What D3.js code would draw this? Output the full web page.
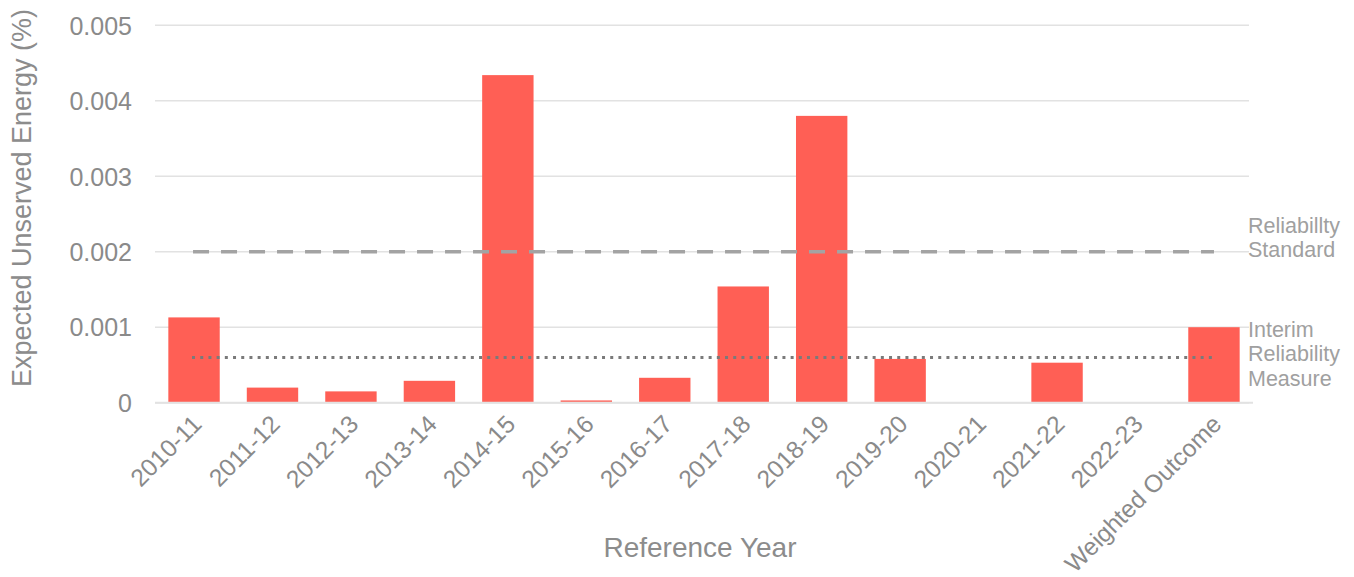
<!DOCTYPE html>
<html>
<head>
<meta charset="utf-8">
<script src="https://cdn.jsdelivr.net/npm/d3@7"></script>
<style>
  html, body { margin: 0; padding: 0; background: #fff; }
  svg { display: block; font-family: "Liberation Sans", Arial, sans-serif; }
</style>
</head>
<body>
<svg id="chart" width="1354" height="577"></svg>
<script>
// Expected unserved energy by reference year
const categories = ["2010-11", "2011-12", "2012-13", "2013-14", "2014-15", "2015-16", "2016-17",
  "2017-18", "2018-19", "2019-20", "2020-21", "2021-22", "2022-23", "Weighted Outcome"];
const useValues = [0.00113, 0.0002, 0.00015, 0.00029, 0.00434, 0.00003, 0.00033,
  0.00154, 0.0038, 0.00058, 0, 0.00053, 0, 0.001];
const yTicks = [0, 0.001, 0.002, 0.003, 0.004, 0.005];
const yTickLabels = ["0", "0.001", "0.002", "0.003", "0.004", "0.005"];
const reliabilityStandard = 0.002;
const interimMeasure = 0.0006;
const standardLabel = ["Reliabillty", "Standard"];
const interimLabel = ["Interim", "Reliability", "Measure"];

const svg = d3.select("#chart");
const plotLeft = 155, plotRight = 1253, plotTop = 25.3, plotBottom = 402.7;

const x = d3.scaleBand().domain(categories).range([plotLeft, plotRight]).paddingInner(0.345).paddingOuter(0.17);
const y = d3.scaleLinear().domain([0, 0.005]).range([plotBottom, plotTop]);

// Horizontal gridlines
svg.append("g").selectAll("line").data(yTicks).join("line")
  .attr("x1", plotLeft).attr("x2", 1249)
  .attr("y1", d => y(d)).attr("y2", d => y(d))
  .attr("stroke", "#e2e2e2").attr("stroke-width", 1.6);

// Y axis labels
const yAxis = d3.axisLeft(y).tickValues(yTicks).tickSize(0).tickPadding(0)
  .tickFormat((d, i) => yTickLabels[i]);
svg.append("g").attr("transform", "translate(132,0)").call(yAxis)
  .call(g => g.select(".domain").remove())
  .selectAll("text")
  .attr("font-family", "Liberation Sans, Arial, sans-serif")
  .attr("font-size", 25).attr("fill", "#8a8a8a").attr("dy", "0.35em");

// Bars
svg.append("g").selectAll("rect").data(useValues).join("rect")
  .attr("x", (d, i) => x(categories[i]))
  .attr("width", x.bandwidth())
  .attr("y", d => y(d))
  .attr("height", d => y(0) - y(d))
  .attr("fill", "#ff5f55");

// Baseline
svg.append("line").attr("x1", plotLeft).attr("x2", plotRight)
  .attr("y1", y(0)).attr("y2", y(0))
  .attr("stroke", "#e2e2e2").attr("stroke-width", 2);

// Reference lines spanning first to last category centre
const cx0 = x(categories[0]) + x.bandwidth() / 2;
const cx1 = x(categories[categories.length - 1]) + x.bandwidth() / 2;
svg.append("line").attr("x1", cx0 - 1).attr("x2", cx1)
  .attr("y1", y(reliabilityStandard)).attr("y2", y(reliabilityStandard))
  .attr("stroke", "#a3a3a3").attr("stroke-width", 3.5)
  .attr("stroke-dasharray", "16,12");
svg.append("line").attr("x1", cx0 - 2).attr("x2", cx1)
  .attr("y1", y(interimMeasure)).attr("y2", y(interimMeasure))
  .attr("stroke", "#7a7a7a").attr("stroke-width", 3)
  .attr("stroke-dasharray", "3,5.2");

// Reference line labels
const labelG = svg.append("g").attr("font-size", 21.5).attr("fill", "#a0a0a0");
labelG.append("text").attr("x", 1248).attr("y", 233)
  .selectAll("tspan").data(standardLabel).join("tspan")
  .attr("x", 1248).attr("dy", (d, i) => i ? 24 : 0).text(d => d);
labelG.append("text").attr("x", 1248).attr("y", 337)
  .selectAll("tspan").data(interimLabel).join("tspan")
  .attr("x", 1248).attr("dy", (d, i) => i ? 24.3 : 0).text(d => d);

// X axis category labels
const xAxis = d3.axisBottom(x).tickSize(0).tickPadding(0);
svg.append("g").attr("transform", `translate(0,${plotBottom})`).call(xAxis)
  .call(g => g.select(".domain").remove())
  .selectAll("text")
  .attr("font-family", "Liberation Sans, Arial, sans-serif")
  .attr("font-size", 24.5).attr("fill", "#8a8a8a")
  .attr("text-anchor", "end").attr("dy", null).attr("y", null)
  .attr("transform", "translate(9,23) rotate(-45)");

// Axis titles
svg.append("text").attr("x", 700).attr("y", 557)
  .attr("text-anchor", "middle").attr("font-size", 28).attr("fill", "#8c8c8c")
  .text("Reference Year");
svg.append("text").attr("transform", "translate(31,198) rotate(-90)")
  .attr("text-anchor", "middle").attr("font-size", 27).attr("fill", "#8c8c8c")
  .text("Expected Unserved Energy (%)");
</script>
</body>
</html>
